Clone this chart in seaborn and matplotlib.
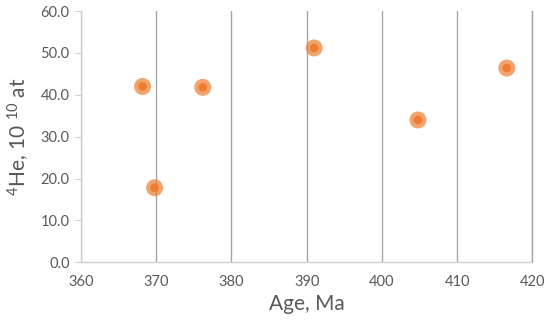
import seaborn as sns
import matplotlib.pyplot as plt
import pandas as pd
from matplotlib.ticker import FormatStrFormatter

age = [368.2, 369.8, 376.2, 391.0, 404.8, 416.6]
he4 = [42.0, 17.8, 41.8, 51.2, 34.0, 46.4]

df = pd.DataFrame({'age': age, 'he4': he4})

sns.set_style('white')
plt.rcParams['font.family'] = ['Lato', 'DejaVu Sans']
plt.rcParams['mathtext.fontset'] = 'custom'
plt.rcParams['mathtext.rm'] = 'Lato'
plt.rcParams['mathtext.it'] = 'Lato'

fig, ax = plt.subplots(figsize=(5.5, 3.27), dpi=100)
fig.subplots_adjust(left=0.147, right=0.968, bottom=0.198, top=0.966)

orange = '#ED7D31'
sns.scatterplot(data=df, x='age', y='he4', ax=ax, s=150, color=orange,
                alpha=0.7, edgecolor='none', zorder=3)
sns.scatterplot(data=df, x='age', y='he4', ax=ax, s=38, color=orange,
                edgecolor='none', zorder=4)

ax.set_xlim(360, 420)
ax.set_ylim(0, 60)
ax.set_xticks(range(360, 421, 10))
ax.set_yticks(range(0, 61, 10))
ax.yaxis.set_major_formatter(FormatStrFormatter('%.1f'))

ax.grid(axis='x', color='#A6A6A6', linewidth=1)
ax.grid(axis='y', visible=False)
ax.set_axisbelow(True)
ax.spines['top'].set_visible(False)
# last vertical gridline (420) sits on the right edge
ax.spines['right'].set_color('#A6A6A6')
ax.spines['right'].set_linewidth(1)
for side in ['left', 'bottom']:
    ax.spines[side].set_color('#D0D0D0')
    ax.spines[side].set_linewidth(1)

ax.tick_params(axis='y', length=4, color='#D0D0D0', labelsize=10.5,
               labelcolor='#595959', pad=4, left=True)
ax.tick_params(axis='x', length=0, labelsize=10.5, labelcolor='#595959', pad=9)

ax.set_xlabel('Age, Ma', fontsize=15, color='#595959', labelpad=4)
ax.set_ylabel(r'$^{4}$He, 10 $^{10}$ at', fontsize=15, color='#595959', labelpad=6)

fig.savefig('out.png', dpi=100)
